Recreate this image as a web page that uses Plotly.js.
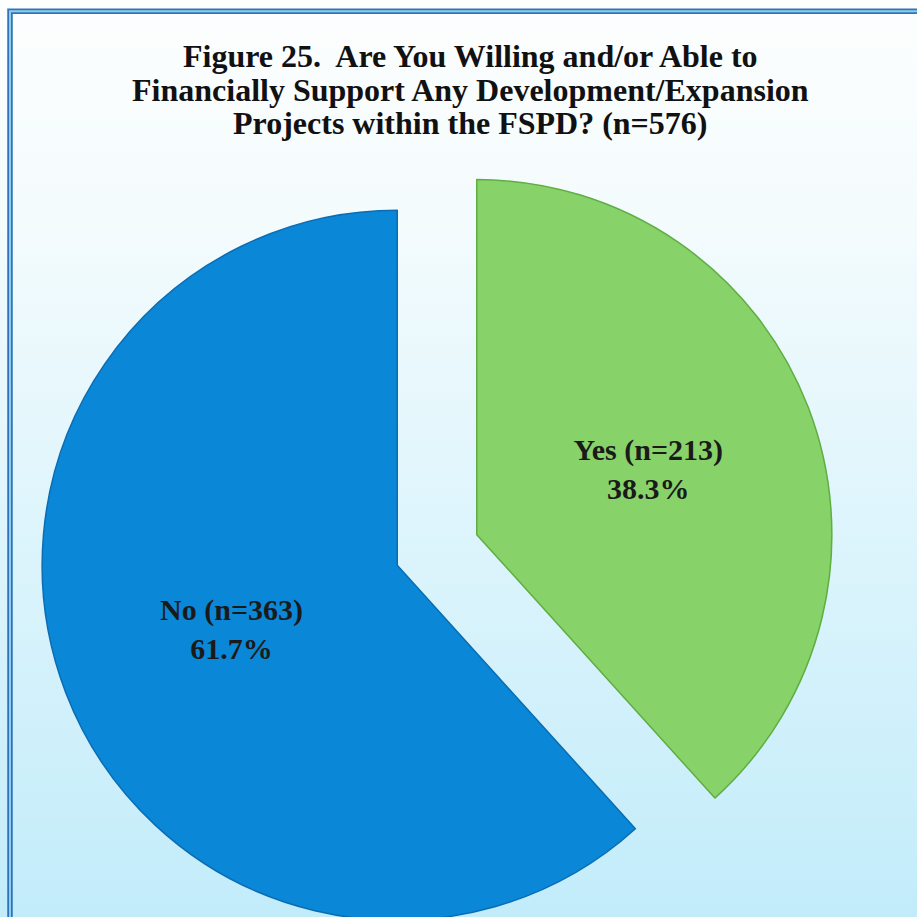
<!DOCTYPE html>
<html>
<head>
<meta charset="utf-8">
<script src="https://cdn.plot.ly/plotly-3.0.1.min.js"></script>
<style>
  html, body { margin: 0; padding: 0; overflow: hidden; width: 917px; height: 917px; }
  body { background: linear-gradient(to bottom, #fdfefe 0%, #f3fbfd 25%, #dcf4fc 60%, #c2ecfa 100%); }
  #chart { position: absolute; left: 0; top: 0; width: 960px; height: 960px; }
</style>
</head>
<body>
<div id="chart"></div>
<script>
// Data
const labels = ["Yes", "No"];
const counts = [213, 363];
const percents = [38.3, 61.7];
const sliceColors = ["#88d26a", "#0b87d7"];
const edgeColors = ["#5fae42", "#0a6db3"];
const titleLines = [
  "Figure 25.  Are You Willing and/or Able to",
  "Financially Support Any Development/Expansion",
  "Projects within the FSPD? (n=576)"
];

const W = 960, H = 960;
const px = v => v / W;
const py = v => 1 - v / H;

const trace = {
  type: "pie",
  labels: labels,
  values: percents,
  customdata: counts,
  sort: false,
  direction: "clockwise",
  rotation: 0,
  pull: [0.12, 0.12],
  marker: { colors: sliceColors, line: { color: edgeColors, width: 1.5 } },
  texttemplate: "%{label} (n=%{customdata})<br>%{value:.1f}%",
  textposition: "inside",
  insidetextorientation: "horizontal",
  textfont: { family: "Liberation Serif", size: 30, weight: "bold", color: "#1a1a1a" },
  hoverinfo: "none",
  domain: { x: [px(39.3), px(834.7)], y: [py(947.7), py(152.3)] }
};

const titleY = [56, 89.5, 123];
const annotations = titleLines.map((t, i) => ({
  text: t, showarrow: false,
  xref: "paper", yref: "paper",
  x: px(470), y: py(titleY[i]), xanchor: "center", yanchor: "middle",
  font: { family: "Liberation Serif", size: 32, weight: "bold", color: "#111111" }
}));

const layout = {
  width: W, height: H,
  margin: { l: 0, r: 0, t: 0, b: 0 },
  paper_bgcolor: "rgba(0,0,0,0)",
  plot_bgcolor: "rgba(0,0,0,0)",
  showlegend: false,
  annotations: annotations,
  shapes: [
    { type: "rect", xref: "paper", yref: "paper", x0: px(10), x1: 1.1, y0: -0.1, y1: py(11.3),
      line: { color: "#2f74b8", width: 5.5 }, fillcolor: "rgba(0,0,0,0)" },
    { type: "rect", xref: "paper", yref: "paper", x0: px(10), x1: 1.1, y0: -0.1, y1: py(11.3),
      line: { color: "#8fcbee", width: 2 }, fillcolor: "rgba(0,0,0,0)" }
  ]
};

Plotly.newPlot("chart", [trace], layout, { displayModeBar: false, staticPlot: true });
</script>
</body>
</html>
